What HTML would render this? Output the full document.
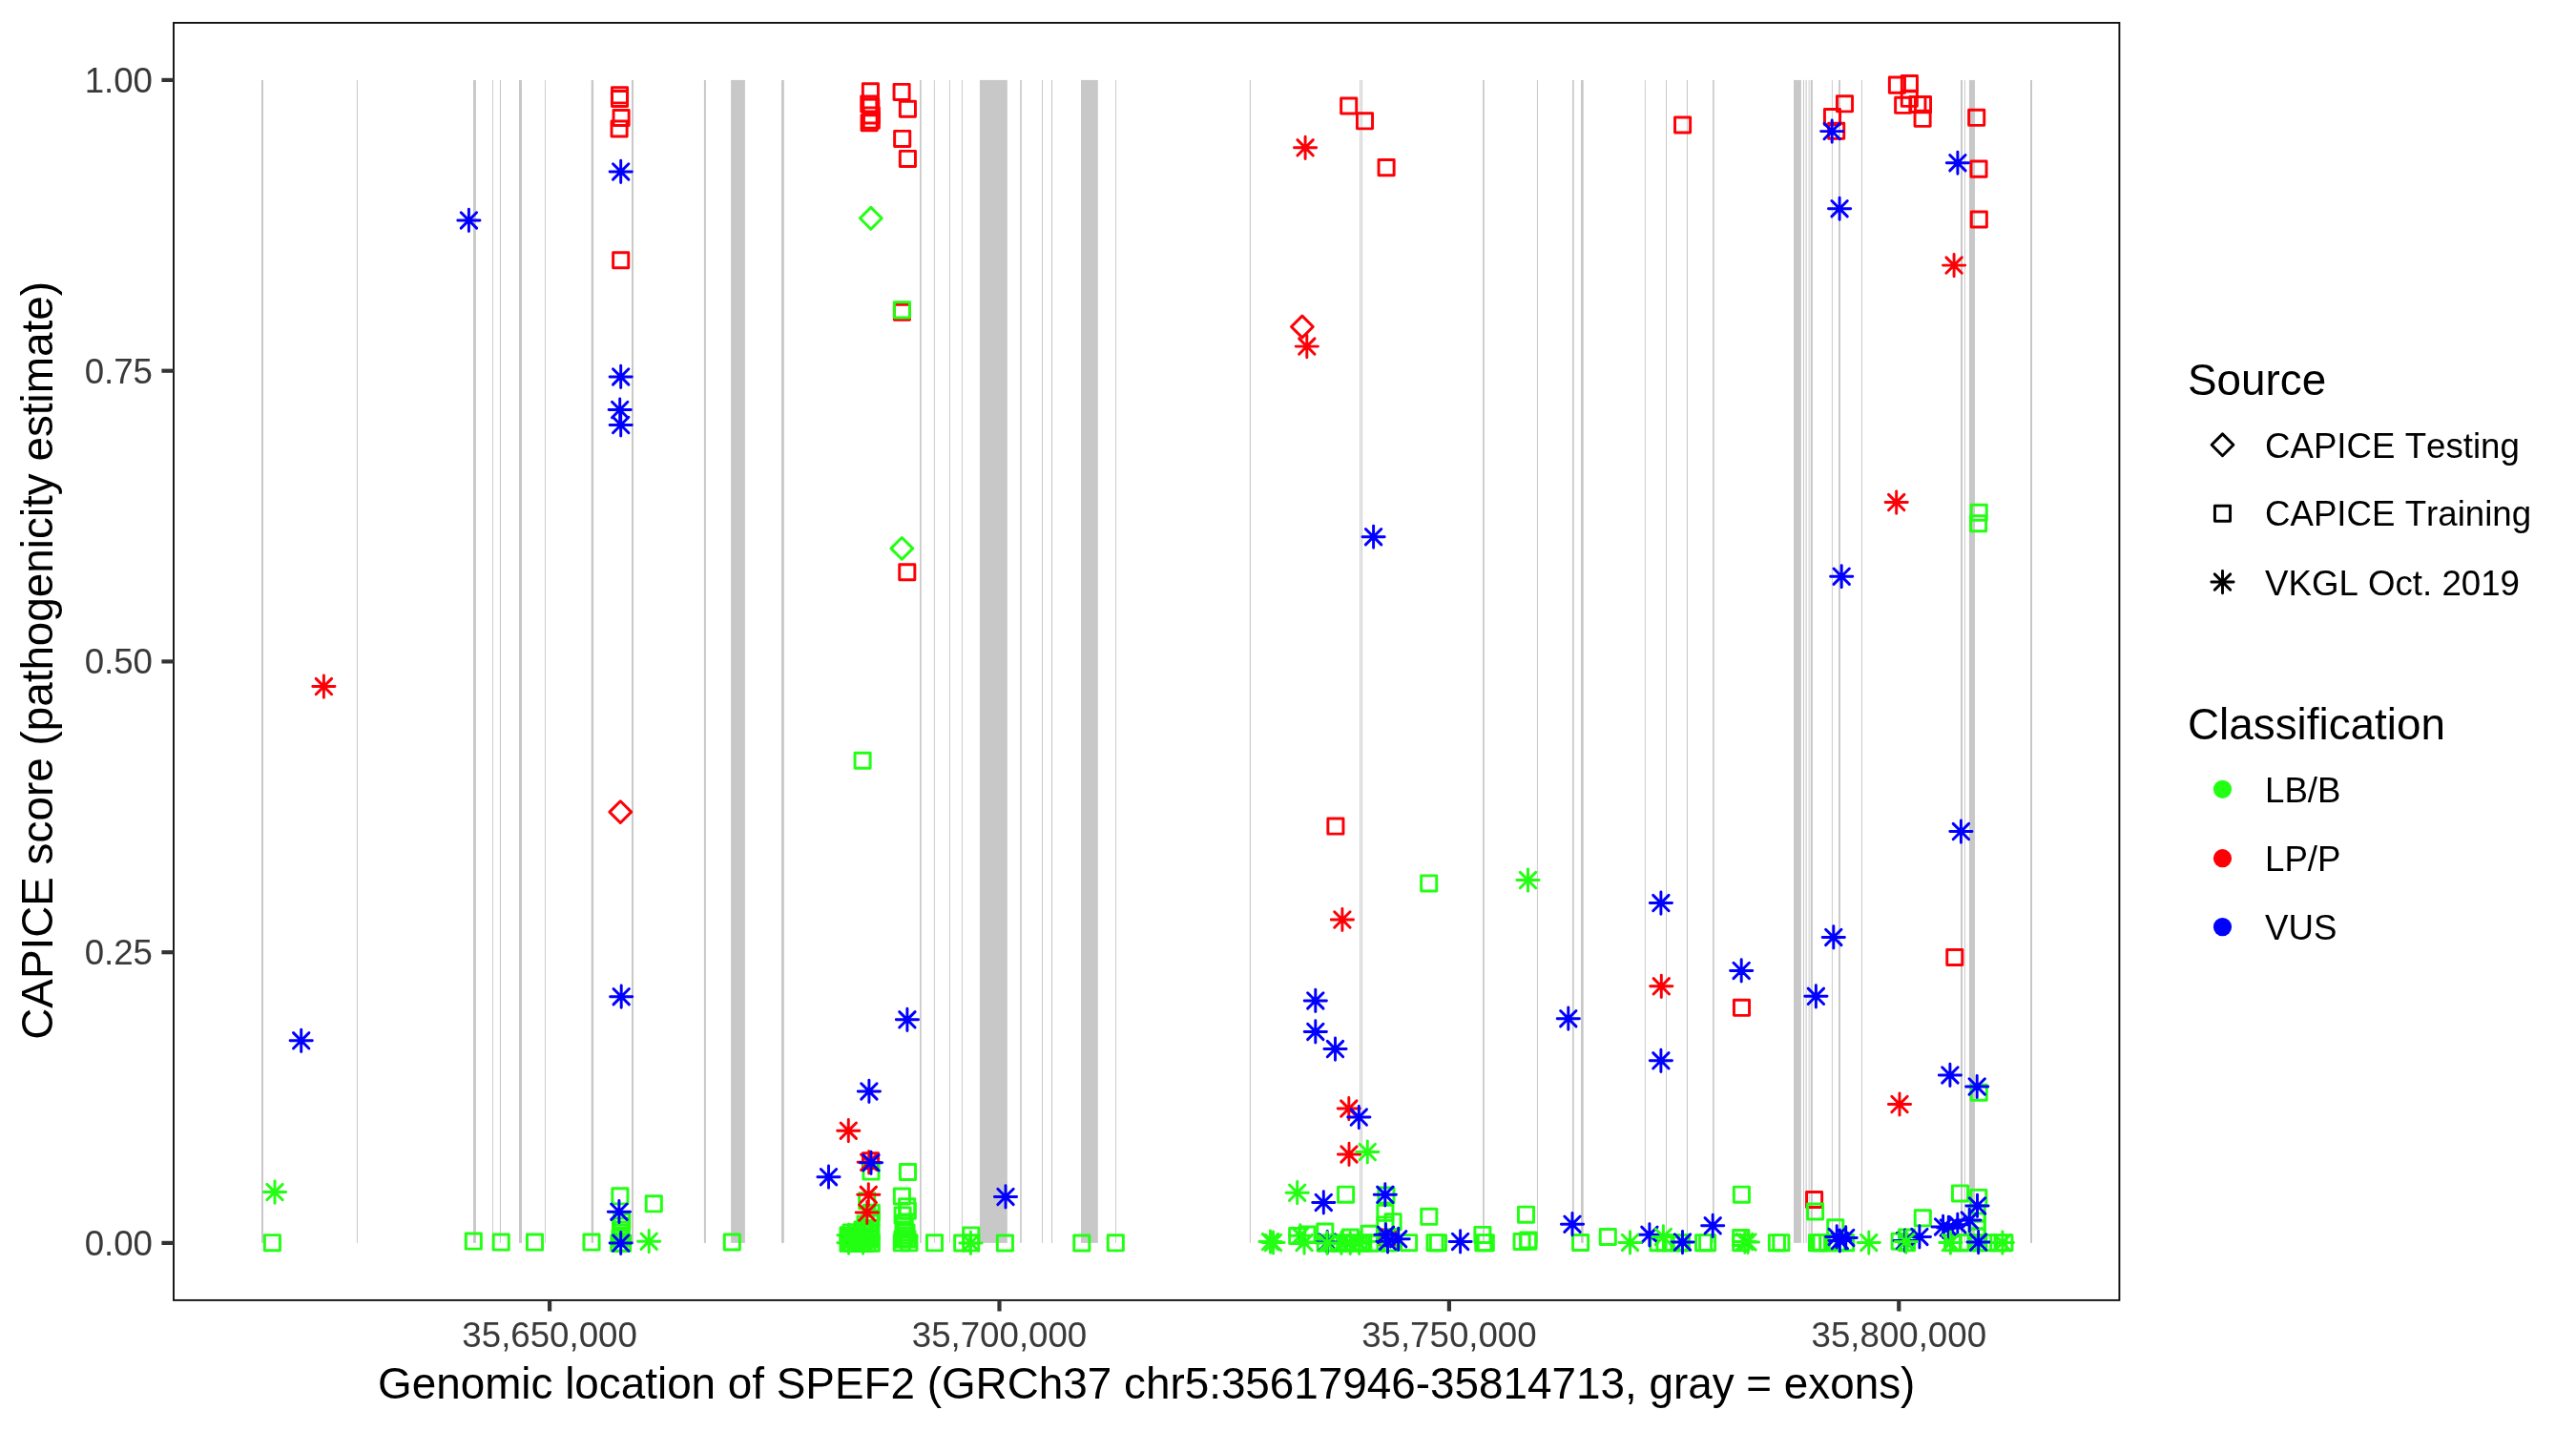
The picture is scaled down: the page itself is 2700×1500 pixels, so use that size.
<!DOCTYPE html><html><head><meta charset="utf-8"><title>CAPICE SPEF2</title><style>html,body{margin:0;padding:0;background:#fff;}svg{display:block;will-change:transform;}text{font-family:"Liberation Sans",sans-serif;font-kerning:none;}</style></head><body>
<svg width="2700" height="1500" viewBox="0 0 2700 1500">
<defs><rect id="s" x="-8.05" y="-8.05" width="16.1" height="16.1" fill="none" stroke-width="2.95" stroke-linejoin="round"/><path id="d" d="M0,-11.4L11.4,0L0,11.4L-11.4,0Z" fill="none" stroke-width="2.95" stroke-linejoin="round"/><path id="a" d="M-11.6,0H11.6M0,-11.6V11.6M-8.2,-8.2L8.2,8.2M-8.2,8.2L8.2,-8.2" fill="none" stroke-width="2.95" stroke-linecap="round"/></defs>
<rect width="2700" height="1500" fill="#fff"/>
<g fill="#c8c8c8">
<rect x="274" y="83.9" width="2" height="1219"/>
<rect x="373.9" y="83.9" width="1" height="1219"/>
<rect x="496" y="83.9" width="2.9" height="1219"/>
<rect x="516.1" y="83.9" width="0.9" height="1219"/>
<rect x="523.9" y="83.9" width="1.1" height="1219"/>
<rect x="544" y="83.9" width="3" height="1219"/>
<rect x="571.1" y="83.9" width="0.9" height="1219"/>
<rect x="619.7" y="83.9" width="2.4" height="1219"/>
<rect x="662" y="83.9" width="2" height="1219"/>
<rect x="737.9" y="83.9" width="2" height="1219"/>
<rect x="766.1" y="83.9" width="14.8" height="1219"/>
<rect x="819" y="83.9" width="2.8" height="1219"/>
<rect x="964" y="83.9" width="1.7" height="1219"/>
<rect x="978.9" y="83.9" width="0.9" height="1219"/>
<rect x="995.1" y="83.9" width="0.9" height="1219"/>
<rect x="1008" y="83.9" width="0.9" height="1219"/>
<rect x="1026.9" y="83.9" width="28.9" height="1219"/>
<rect x="1069.2" y="83.9" width="1.6" height="1219"/>
<rect x="1092" y="83.9" width="1" height="1219"/>
<rect x="1102" y="83.9" width="1.1" height="1219"/>
<rect x="1133" y="83.9" width="17.8" height="1219"/>
<rect x="1169.1" y="83.9" width="0.9" height="1219"/>
<rect x="1309.8" y="83.9" width="1.1" height="1219"/>
<rect x="1425.2" y="83.9" width="0.9" height="1219"/>
<rect x="1426.9" y="83.9" width="1" height="1219"/>
<rect x="1554.1" y="83.9" width="1.7" height="1219"/>
<rect x="1610.9" y="83.9" width="1" height="1219"/>
<rect x="1648" y="83.9" width="1.7" height="1219"/>
<rect x="1657" y="83.9" width="2.7" height="1219"/>
<rect x="1723.9" y="83.9" width="0.9" height="1219"/>
<rect x="1746" y="83.9" width="1" height="1219"/>
<rect x="1767.9" y="83.9" width="1.1" height="1219"/>
<rect x="1795.1" y="83.9" width="1.6" height="1219"/>
<rect x="1880" y="83.9" width="7.9" height="1219"/>
<rect x="1890" y="83.9" width="1" height="1219"/>
<rect x="1892.6" y="83.9" width="1.1" height="1219"/>
<rect x="1895.7" y="83.9" width="0.9" height="1219"/>
<rect x="1897.8" y="83.9" width="2.1" height="1219"/>
<rect x="1919.9" y="83.9" width="0.9" height="1219"/>
<rect x="1927.1" y="83.9" width="1.9" height="1219"/>
<rect x="1950.9" y="83.9" width="1" height="1219"/>
<rect x="2055" y="83.9" width="2" height="1219"/>
<rect x="2058.9" y="83.9" width="1" height="1219"/>
<rect x="2063.9" y="83.9" width="6.1" height="1219"/>
<rect x="2128" y="83.9" width="2" height="1219"/>
</g>
<g stroke="#fc0006">
<use href="#s" x="650.7" y="272.8"/>
<use href="#s" x="649.5" y="99.8"/>
<use href="#s" x="649.5" y="103.5"/>
<use href="#s" x="651.1" y="123.5"/>
<use href="#s" x="649.1" y="135"/>
<use href="#s" x="912.4" y="95.7"/>
<use href="#s" x="910.8" y="108.9"/>
<use href="#s" x="912.8" y="112"/>
<use href="#s" x="913.3" y="120.9"/>
<use href="#s" x="913.3" y="126.2"/>
<use href="#s" x="911.1" y="128.7"/>
<use href="#s" x="945.1" y="96.4"/>
<use href="#s" x="951.4" y="114.2"/>
<use href="#s" x="945.7" y="145.4"/>
<use href="#s" x="951.4" y="166.4"/>
<use href="#s" x="945.4" y="327.2"/>
<use href="#s" x="950.8" y="599.7"/>
<use href="#s" x="912.5" y="1216.8"/>
<use href="#s" x="1413.7" y="111"/>
<use href="#s" x="1430.5" y="126.8"/>
<use href="#s" x="1453.1" y="175.6"/>
<use href="#s" x="1399.9" y="866.1"/>
<use href="#s" x="1454.5" y="1297"/>
<use href="#s" x="1763.6" y="131"/>
<use href="#s" x="1933.5" y="108.8"/>
<use href="#s" x="1920.5" y="122.6"/>
<use href="#s" x="1924.7" y="137.3"/>
<use href="#s" x="1988.4" y="89.1"/>
<use href="#s" x="2001.4" y="87.6"/>
<use href="#s" x="2001.3" y="103.3"/>
<use href="#s" x="1994.7" y="110.3"/>
<use href="#s" x="2009.9" y="109.5"/>
<use href="#s" x="2015.5" y="109.6"/>
<use href="#s" x="2015.1" y="124.3"/>
<use href="#s" x="2071.7" y="123.3"/>
<use href="#s" x="2074" y="177.1"/>
<use href="#s" x="2074.3" y="230"/>
<use href="#s" x="1825.5" y="1056.3"/>
<use href="#s" x="2048.8" y="1003.5"/>
<use href="#s" x="1901.6" y="1257.5"/>
</g>
<g stroke="#22ff12">
<use href="#s" x="285.4" y="1302.7"/>
<use href="#s" x="496.3" y="1301.1"/>
<use href="#s" x="525.2" y="1302.1"/>
<use href="#s" x="560.5" y="1302.1"/>
<use href="#s" x="620" y="1302.1"/>
<use href="#s" x="649.9" y="1253.8"/>
<use href="#s" x="685.3" y="1261.8"/>
<use href="#s" x="651.7" y="1280.5"/>
<use href="#s" x="651" y="1289"/>
<use href="#s" x="651" y="1295"/>
<use href="#s" x="648.8" y="1303.2"/>
<use href="#s" x="652.6" y="1303.2"/>
<use href="#s" x="945.4" y="324.9"/>
<use href="#s" x="904.1" y="797.3"/>
<use href="#s" x="767.3" y="1302"/>
<use href="#s" x="913" y="1228.1"/>
<use href="#s" x="908.7" y="1258.7"/>
<use href="#s" x="913.3" y="1271.3"/>
<use href="#s" x="912" y="1282"/>
<use href="#s" x="904" y="1288.9"/>
<use href="#s" x="911" y="1289"/>
<use href="#s" x="889" y="1295.5"/>
<use href="#s" x="896" y="1296"/>
<use href="#s" x="903" y="1296"/>
<use href="#s" x="910" y="1296"/>
<use href="#s" x="889" y="1303.2"/>
<use href="#s" x="893" y="1303.2"/>
<use href="#s" x="897" y="1303.2"/>
<use href="#s" x="901" y="1303.2"/>
<use href="#s" x="905" y="1303.2"/>
<use href="#s" x="909" y="1303.2"/>
<use href="#s" x="913.3" y="1303.2"/>
<use href="#s" x="951.5" y="1228.5"/>
<use href="#s" x="945.4" y="1254"/>
<use href="#s" x="950.7" y="1264.8"/>
<use href="#s" x="951.3" y="1269.2"/>
<use href="#s" x="946.1" y="1273.9"/>
<use href="#s" x="948" y="1282"/>
<use href="#s" x="948" y="1289"/>
<use href="#s" x="948" y="1295"/>
<use href="#s" x="945.3" y="1302.8"/>
<use href="#s" x="952.9" y="1302.8"/>
<use href="#s" x="948" y="1298"/>
<use href="#s" x="979.5" y="1302.8"/>
<use href="#s" x="1008.7" y="1303"/>
<use href="#s" x="1017.8" y="1294.9"/>
<use href="#s" x="1017.7" y="1302.8"/>
<use href="#s" x="1053.4" y="1303"/>
<use href="#s" x="1133.8" y="1303"/>
<use href="#s" x="1169.3" y="1302.8"/>
<use href="#s" x="1497.7" y="925.9"/>
<use href="#s" x="1410.6" y="1252.2"/>
<use href="#s" x="1452.9" y="1253"/>
<use href="#s" x="1451.9" y="1271.3"/>
<use href="#s" x="1460.1" y="1280.7"/>
<use href="#s" x="1451.9" y="1283.9"/>
<use href="#s" x="1359.7" y="1295.5"/>
<use href="#s" x="1370" y="1294"/>
<use href="#s" x="1388.8" y="1291"/>
<use href="#s" x="1415.4" y="1297"/>
<use href="#s" x="1435.3" y="1293.3"/>
<use href="#s" x="1389.2" y="1303.1"/>
<use href="#s" x="1396" y="1303.1"/>
<use href="#s" x="1403" y="1303.1"/>
<use href="#s" x="1410" y="1303.1"/>
<use href="#s" x="1417" y="1303.1"/>
<use href="#s" x="1424" y="1303.1"/>
<use href="#s" x="1428.8" y="1303.1"/>
<use href="#s" x="1436" y="1303.1"/>
<use href="#s" x="1443" y="1303.1"/>
<use href="#s" x="1497.8" y="1275.3"/>
<use href="#s" x="1476.6" y="1302.7"/>
<use href="#s" x="1504" y="1302.7"/>
<use href="#s" x="1507.4" y="1302.7"/>
<use href="#s" x="1553.9" y="1294.4"/>
<use href="#s" x="1554.8" y="1302.7"/>
<use href="#s" x="1557.3" y="1302.7"/>
<use href="#s" x="1599.5" y="1273.2"/>
<use href="#s" x="1595.1" y="1301.5"/>
<use href="#s" x="1601.9" y="1301.2"/>
<use href="#s" x="1601.8" y="1300"/>
<use href="#s" x="2074.2" y="537.2"/>
<use href="#s" x="2073.6" y="548.7"/>
<use href="#s" x="2074.2" y="1145.2"/>
<use href="#s" x="1656.6" y="1302.5"/>
<use href="#s" x="1685.3" y="1296.5"/>
<use href="#s" x="1738" y="1302.7"/>
<use href="#s" x="1745" y="1302.7"/>
<use href="#s" x="1752" y="1302.7"/>
<use href="#s" x="1760" y="1302.7"/>
<use href="#s" x="1762.4" y="1302.7"/>
<use href="#s" x="1785.6" y="1302.7"/>
<use href="#s" x="1789.6" y="1302.7"/>
<use href="#s" x="1825.4" y="1252.2"/>
<use href="#s" x="1824.8" y="1297.5"/>
<use href="#s" x="1824.8" y="1302.8"/>
<use href="#s" x="1862.4" y="1302.7"/>
<use href="#s" x="1866.9" y="1302.7"/>
<use href="#s" x="1902.6" y="1270"/>
<use href="#s" x="1923.8" y="1286.8"/>
<use href="#s" x="1907" y="1302.7"/>
<use href="#s" x="1915.8" y="1302.7"/>
<use href="#s" x="1925.2" y="1302.7"/>
<use href="#s" x="1934.7" y="1302.7"/>
<use href="#s" x="1991.2" y="1301.2"/>
<use href="#s" x="1998.6" y="1297"/>
<use href="#s" x="1998.6" y="1302.7"/>
<use href="#s" x="2015.3" y="1276.8"/>
<use href="#s" x="2054.5" y="1250.9"/>
<use href="#s" x="2073.8" y="1255.4"/>
<use href="#s" x="2072.2" y="1272"/>
<use href="#s" x="2072.2" y="1280"/>
<use href="#s" x="2072.2" y="1288"/>
<use href="#s" x="2072.2" y="1296"/>
<use href="#s" x="2046.6" y="1302.7"/>
<use href="#s" x="2055" y="1302.7"/>
<use href="#s" x="2063" y="1302.7"/>
<use href="#s" x="2073.8" y="1302.7"/>
<use href="#s" x="2083" y="1302.7"/>
<use href="#s" x="2094.8" y="1302.7"/>
<use href="#s" x="2100.9" y="1302.7"/>
<use href="#s" x="891" y="1299"/>
<use href="#s" x="895" y="1299"/>
<use href="#s" x="899" y="1299"/>
<use href="#s" x="903" y="1299"/>
<use href="#s" x="907" y="1299"/>
<use href="#s" x="911" y="1299"/>
<use href="#s" x="892" y="1292"/>
<use href="#s" x="899" y="1292"/>
<use href="#s" x="906" y="1292"/>
<use href="#s" x="913" y="1292"/>
<use href="#s" x="907" y="1283"/>
<use href="#s" x="913" y="1277"/>
<use href="#s" x="1456" y="1303"/>
<use href="#s" x="650.5" y="1285"/>
<use href="#s" x="651" y="1292"/>
<use href="#s" x="650" y="1298"/>
<use href="#s" x="947" y="1285"/>
<use href="#s" x="950" y="1292"/>
<use href="#s" x="946" y="1299"/>
<use href="#s" x="951" y="1299"/>
<use href="#s" x="1904.5" y="1302.7"/>
<use href="#s" x="1909" y="1302.7"/>
</g>
<g stroke="#22ff12">
<use href="#d" x="912.8" y="228.8"/>
<use href="#d" x="945.3" y="574.9"/>
</g>
<g stroke="#fc0006">
<use href="#d" x="650.3" y="851.1"/>
<use href="#d" x="1364.9" y="342.5"/>
</g>
<g stroke="#fc0006">
<use href="#a" x="339.4" y="719.6"/>
<use href="#a" x="889.3" y="1185.2"/>
<use href="#a" x="910.7" y="1218.3"/>
<use href="#a" x="910.3" y="1252.3"/>
<use href="#a" x="908.8" y="1271"/>
<use href="#a" x="1368.1" y="154.8"/>
<use href="#a" x="1369.8" y="363.1"/>
<use href="#a" x="1406.9" y="964"/>
<use href="#a" x="1413.8" y="1162.1"/>
<use href="#a" x="1414" y="1209.9"/>
<use href="#a" x="2048.1" y="278.1"/>
<use href="#a" x="1987.7" y="526.6"/>
<use href="#a" x="1741.3" y="1033.8"/>
<use href="#a" x="1991" y="1157.5"/>
</g>
<g stroke="#0000ff">
<use href="#a" x="491.4" y="230.9"/>
<use href="#a" x="650.7" y="179.9"/>
<use href="#a" x="650.7" y="394.9"/>
<use href="#a" x="649.7" y="429.5"/>
<use href="#a" x="650.7" y="445.5"/>
<use href="#a" x="315.7" y="1090.8"/>
<use href="#a" x="651.2" y="1044.7"/>
<use href="#a" x="648.9" y="1270.2"/>
<use href="#a" x="650.7" y="1303"/>
<use href="#a" x="950.9" y="1068.8"/>
<use href="#a" x="910.9" y="1143.9"/>
<use href="#a" x="868.5" y="1233.7"/>
<use href="#a" x="913" y="1218.8"/>
<use href="#a" x="1054" y="1254.4"/>
<use href="#a" x="1439.6" y="562.7"/>
<use href="#a" x="1378.8" y="1048.9"/>
<use href="#a" x="1378.8" y="1081.4"/>
<use href="#a" x="1399.5" y="1099.6"/>
<use href="#a" x="1424.3" y="1171.1"/>
<use href="#a" x="1643.8" y="1067.7"/>
<use href="#a" x="1387.3" y="1260.4"/>
<use href="#a" x="1451.8" y="1252.3"/>
<use href="#a" x="1391.2" y="1302.1"/>
<use href="#a" x="1452.5" y="1294.3"/>
<use href="#a" x="1454.5" y="1301.3"/>
<use href="#a" x="1465.7" y="1298.8"/>
<use href="#a" x="1530.6" y="1301.4"/>
<use href="#a" x="1920.2" y="137.6"/>
<use href="#a" x="1928.1" y="218.7"/>
<use href="#a" x="2051.9" y="170.7"/>
<use href="#a" x="1930.2" y="604.2"/>
<use href="#a" x="2055.4" y="871.6"/>
<use href="#a" x="1740.9" y="946.6"/>
<use href="#a" x="1740.9" y="1111.8"/>
<use href="#a" x="1825.2" y="1017.4"/>
<use href="#a" x="1921.8" y="982.4"/>
<use href="#a" x="1903.4" y="1044.3"/>
<use href="#a" x="2043.9" y="1126.9"/>
<use href="#a" x="2072.2" y="1139"/>
<use href="#a" x="1648" y="1283.2"/>
<use href="#a" x="1728.9" y="1294.3"/>
<use href="#a" x="1763.5" y="1302.1"/>
<use href="#a" x="1795.2" y="1284.8"/>
<use href="#a" x="1925.2" y="1296.4"/>
<use href="#a" x="1934.7" y="1297.4"/>
<use href="#a" x="1928.4" y="1300.5"/>
<use href="#a" x="1996.7" y="1300.5"/>
<use href="#a" x="2011.9" y="1296.4"/>
<use href="#a" x="2036.6" y="1285.9"/>
<use href="#a" x="2042.3" y="1286.9"/>
<use href="#a" x="2051.8" y="1283.8"/>
<use href="#a" x="2064.3" y="1279.1"/>
<use href="#a" x="2072.5" y="1263.9"/>
<use href="#a" x="2073.6" y="1302.1"/>
</g>
<g stroke="#22ff12">
<use href="#a" x="288" y="1249.6"/>
<use href="#a" x="680.2" y="1301.2"/>
<use href="#a" x="889.5" y="1294.8"/>
<use href="#a" x="889.5" y="1302.7"/>
<use href="#a" x="904.6" y="1302.7"/>
<use href="#a" x="1017.5" y="1302.9"/>
<use href="#a" x="1601.5" y="922.6"/>
<use href="#a" x="1433.3" y="1207.5"/>
<use href="#a" x="1359.7" y="1250.2"/>
<use href="#a" x="1331.5" y="1301.6"/>
<use href="#a" x="1334.5" y="1302.5"/>
<use href="#a" x="1362.9" y="1295.3"/>
<use href="#a" x="1367.1" y="1302.6"/>
<use href="#a" x="1391" y="1303"/>
<use href="#a" x="1405.9" y="1303"/>
<use href="#a" x="1415.3" y="1303"/>
<use href="#a" x="1424.7" y="1303"/>
<use href="#a" x="1708.5" y="1302.4"/>
<use href="#a" x="1743.4" y="1296.4"/>
<use href="#a" x="1828.8" y="1301.6"/>
<use href="#a" x="1832" y="1302"/>
<use href="#a" x="1958.8" y="1302.6"/>
<use href="#a" x="1997.8" y="1301.6"/>
<use href="#a" x="2044.4" y="1302.6"/>
<use href="#a" x="2098.9" y="1302.6"/>
</g>
<rect x="182" y="23.9" width="2039.4" height="1339" fill="none" stroke="#111" stroke-width="1.9"/>
<g stroke="#333" stroke-width="4.2">
<line x1="169.4" y1="1302.9" x2="182" y2="1302.9"/>
<line x1="169.4" y1="998.2" x2="182" y2="998.2"/>
<line x1="169.4" y1="693.4" x2="182" y2="693.4"/>
<line x1="169.4" y1="388.7" x2="182" y2="388.7"/>
<line x1="169.4" y1="83.9" x2="182" y2="83.9"/>
<line x1="576.1" y1="1362.9" x2="576.1" y2="1374.5"/>
<line x1="1047.5" y1="1362.9" x2="1047.5" y2="1374.5"/>
<line x1="1518.9" y1="1362.9" x2="1518.9" y2="1374.5"/>
<line x1="1990.3" y1="1362.9" x2="1990.3" y2="1374.5"/>
</g>
<g fill="#393939" font-size="36.67" text-anchor="end">
<text x="160" y="1315.9">0.00</text>
<text x="160" y="1011.2">0.25</text>
<text x="160" y="706.4">0.50</text>
<text x="160" y="401.7">0.75</text>
<text x="160" y="96.9">1.00</text>
</g>
<g fill="#393939" font-size="36.67" text-anchor="middle">
<text x="576.1" y="1412.3">35,650,000</text>
<text x="1047.5" y="1412.3">35,700,000</text>
<text x="1518.9" y="1412.3">35,750,000</text>
<text x="1990.3" y="1412.3">35,800,000</text>
</g>
<text x="1201.7" y="1466.4" font-size="45.83" text-anchor="middle" fill="#000">Genomic location of SPEF2 (GRCh37 chr5:35617946-35814713, gray = exons)</text>
<text transform="translate(55,692.4) rotate(-90)" font-size="45.83" text-anchor="middle" fill="#000">CAPICE score (pathogenicity estimate)</text>
<text x="2293" y="413.5" font-size="45.83" fill="#000">Source</text>
<text x="2293" y="774.5" font-size="45.83" fill="#000">Classification</text>
<g stroke="#000">
<use href="#d" x="2329.5" y="466.3"/>
<use href="#s" x="2329.5" y="538.2"/>
<use href="#a" x="2329.5" y="610.1"/>
</g>
<circle cx="2329.5" cy="827.3" r="9.6" fill="#22ff12"/>
<circle cx="2329.5" cy="899.7" r="9.6" fill="#fc0006"/>
<circle cx="2329.5" cy="971.6" r="9.6" fill="#0000ff"/>
<g font-size="36.67" fill="#000">
<text x="2374" y="479.8">CAPICE Testing</text>
<text x="2374" y="551.3">CAPICE Training</text>
<text x="2374" y="624">VKGL Oct. 2019</text>
<text x="2374" y="841">LB/B</text>
<text x="2374" y="913">LP/P</text>
<text x="2374" y="985">VUS</text>
</g>
</svg></body></html>
